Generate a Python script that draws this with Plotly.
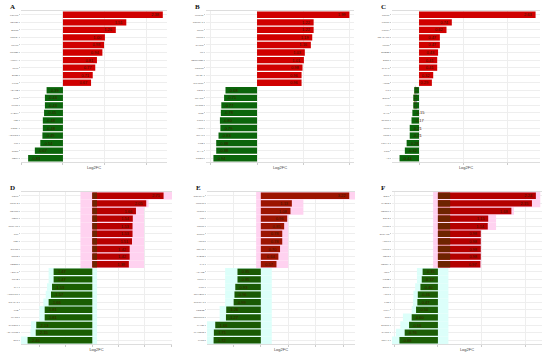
import plotly.graph_objects as go

# ---------------- data ----------------
panels = ["A", "B", "C", "D", "E", "F"]

labels_A = ["FOXM1", "CDC20", "BIRC5", "TOP2A", "MKI67", "CCNB1", "AURKA", "PLK1", "BUB1", "KIF11",
            "ADH1B", "CFD", "PLIN1", "FABP4", "LEP", "CIDEA", "ADIPOQ", "LPL", "GPD1", "RBP4"]
labels_B = ["MMP11", "COL11A1", "SPP1", "MMP1", "CXCL8", "IL6", "SERPINE1", "POSTN", "INHBA", "CTHRC1",
            "CD36", "PPARG", "TUSC5", "SCD", "PCK1", "AQP7", "GPAM", "LIPE", "SAA1", "CIDEC"]
labels_C = ["S100P", "KRT17", "KRT14", "CEACAM6", "MUC1", "ERBB2", "ESR1", "GATA3", "TFF1", "AGR2",
            "KIT", "EGFR", "VIM", "CAV1", "SFRP1", "TP63", "KRT5", "FOXA1", "PGR", "AR"]
labels_D = ["CDK1", "CCNA2", "CDKN3", "MELK", "NUSAP1", "TTK", "PBK", "ZWINT", "RRM2", "UBE2C",
            "ABCA8", "TNXB", "CA4", "ANGPTL7", "SCARA5", "KLB", "MYOC", "CHRDL1", "ADAMTS5", "DPT"]
labels_E = ["COL10A1", "MMP13", "WISP1", "FN1", "COMP", "SULF1", "ASPN", "CDH11", "THBS2", "FAP",
            "ACACB", "TIMP4", "FIGF", "GPIHBP1", "SLC19A3", "PDE3B", "CD300LG", "LYVE1", "MAMDC2", "LVRN"]
labels_F = ["E2F1", "MYBL2", "CENPF", "EZH2", "KIF2C", "DLGAP5", "ASPM", "HMMR", "NEK2", "CENPA",
            "IGF1", "FOSB", "EGR1", "ATF3", "FOS", "KLF4", "JUN", "DUSP1", "CYR61", "NR4A1"]

fc_A = [2.38, 1.51, 1.26, 1.00, 0.98, 0.94, 0.81, 0.77, 0.71, 0.67,
        -0.39, -0.43, -0.43, -0.45, -0.48, -0.48, -0.49, -0.54, -0.67, -0.83]
fc_B = [1.99, 1.22, 1.22, 1.19, 1.16, 1.03, 1.01, 0.98, 0.96, 0.96,
        -0.68, -0.71, -0.77, -0.78, -0.80, -0.79, -0.83, -0.88, -0.88, -0.94]
fc_C = [2.63, 0.74, 0.62, 0.47, 0.47, 0.43, 0.41, 0.41, 0.32, 0.29,
        -0.11, -0.13, -0.13, -0.15, -0.17, -0.21, -0.21, -0.28, -0.32, -0.44]
fc_D = [2.71, 2.05, 1.66, 1.54, 1.53, 1.53, 1.51, 1.42, 1.42, 1.39,
        -1.47, -1.47, -1.53, -1.57, -1.66, -1.81, -1.81, -2.13, -2.15, -2.46]
fc_E = [3.22, 1.13, 1.08, 0.96, 0.85, 0.78, 0.78, 0.70, 0.64, 0.57,
        -0.85, -0.85, -0.93, -0.96, -0.99, -1.26, -1.27, -1.66, -1.71, -1.72]
fc_F = [2.24, 2.15, 1.68, 1.15, 1.14, 0.98, 0.98, 0.98, 0.98, 0.97,
        -0.35, -0.37, -0.40, -0.46, -0.47, -0.50, -0.60, -0.66, -0.76, -0.88]

# highlight band extents (start, end) per row, panels D-F
band_lo_D = [-0.45] * 10 + [-1.66, -1.66, -1.72, -1.77, -1.86, -2.01, -2.01, -2.33, -2.35, -2.71]
band_hi_D = [3.03, 2.14] + [1.97] * 8 + [0.18] * 10
band_lo_E = [-0.17] * 10 + [-1.30, -1.30, -1.30, -1.30, -1.30, -1.50, -1.50, -1.96, -1.96, -1.96]
band_hi_E = [3.43, 1.55, 1.55] + [1.00] * 7 + [0.40] * 10
band_lo_F = [-0.11] * 10 + [-0.48, -0.48, -0.52, -0.56, -0.57, -0.60, -0.80, -0.86, -0.96, -1.05]
band_hi_F = [2.34, 2.34, 1.74, 1.33, 1.33] + [0.99] * 5 + [0.24] * 10

x_ranges = {"A": [-1.0, 2.48], "B": [-1.10, 2.09], "C": [-0.61, 2.73],
            "D": [-2.71, 3.03], "E": [-1.96, 3.43], "F": [-1.05, 2.38]}
x_ticks = {"A": [-1, 0, 1, 2], "B": [-1, 0, 1, 2], "C": [0, 1, 2],
           "D": [-2, -1, 0, 1, 2, 3], "E": [-1, 0, 1, 2, 3], "F": [-1, 0, 1, 2]}

data = {"A": (labels_A, fc_A, None, None), "B": (labels_B, fc_B, None, None),
        "C": (labels_C, fc_C, None, None), "D": (labels_D, fc_D, band_lo_D, band_hi_D),
        "E": (labels_E, fc_E, band_lo_E, band_hi_E), "F": (labels_F, fc_F, band_lo_F, band_hi_F)}

# ---------------- style / layout ----------------
W, H = 550, 359
xdom_px = {"A": (21, 167), "B": (206, 354), "C": (392, 540),
           "D": (21, 172), "E": (207, 355), "F": (392, 542)}
ydom_px = {"top": (11, 162), "bot": (192, 344)}
row_of = {"A": "top", "B": "top", "C": "top", "D": "bot", "E": "bot", "F": "bot"}
red_col = {"A": "#d00000", "B": "#d00000", "C": "#d00000", "D": "#b80000", "E": "#9c1400", "F": "#b40000"}
green_col = {"A": "#0b650b", "B": "#0b650b", "C": "#0b650b", "D": "#1a5e02", "E": "#1a5a04", "F": "#1c5e06"}
dark_seg = {"D": 0.18, "F": 0.28}

fig = go.Figure()
layout = dict(width=W, height=H, margin=dict(l=0, r=0, t=0, b=0), showlegend=False,
              plot_bgcolor="white", paper_bgcolor="white", barmode="overlay",
              font=dict(family="Liberation Sans", size=4, color="#444"))
annotations = []

for i, p in enumerate(panels):
    n = "" if i == 0 else str(i + 1)
    xa, ya = "x" + n, "y" + n
    labs, vals, lo, hi = data[p]
    x0, x1 = xdom_px[p]
    y0, y1 = ydom_px[row_of[p]]
    if lo is not None:
        bcol = ["#ffd2f0" if v > 0 else "#dcfffa" for v in vals]
        fig.add_trace(go.Bar(y=labs, x=[h - l for l, h in zip(lo, hi)], base=lo, orientation="h",
                             width=1.0, marker=dict(color=bcol, line=dict(width=0)),
                             hoverinfo="skip", xaxis=xa, yaxis=ya))
    cols = [red_col[p] if v > 0 else green_col[p] for v in vals]
    fig.add_trace(go.Bar(y=labs, x=vals, orientation="h", width=0.84,
                         marker=dict(color=cols, line=dict(width=0)),
                         text=[f"{v:.2f}" for v in vals], textposition="inside",
                         insidetextanchor="end", textfont=dict(size=4, color="#3a1a00"),
                         constraintext="none", xaxis=xa, yaxis=ya))
    if p in dark_seg:
        seg = dark_seg[p]
        fig.add_trace(go.Bar(y=labs, x=[seg if v > 0 else 0 for v in vals], orientation="h",
                             width=0.84, marker=dict(color="#6e2400", line=dict(width=0)),
                             hoverinfo="skip", xaxis=xa, yaxis=ya))
    layout["xaxis" + n] = dict(domain=[x0 / W, x1 / W], anchor=ya, range=x_ranges[p],
                               automargin=False,
                               tickvals=x_ticks[p], showticklabels=False, ticks="outside",
                               ticklen=2, tickcolor="#cccccc", showgrid=True, gridcolor="#eeeeee",
                               gridwidth=0.5, zeroline=False, showline=True, linecolor="#dddddd",
                               linewidth=0.6, mirror=True,
                               title=dict(text="Log2FC", font=dict(size=4, color="#444"), standoff=2))
    layout["yaxis" + n] = dict(domain=[1 - y1 / H, 1 - y0 / H], anchor=xa, type="category",
                               automargin=False,
                               categoryorder="array", categoryarray=labs, autorange="reversed",
                               range=[19.5, -0.5], tickfont=dict(size=2.5, color="#666"),
                               ticks="outside", ticklen=1, tickcolor="#cccccc",
                               showgrid=True, gridcolor="#eeeeee", gridwidth=0.5, zeroline=False)
    annotations.append(dict(text=f"<b>{p}</b>", xref="paper", yref="paper",
                            x=(x0 - 13) / W, y=1 - (y0 - 4) / H, xanchor="left", yanchor="middle",
                            showarrow=False, font=dict(family="Liberation Serif", size=7, color="#111")))

layout["annotations"] = annotations
fig.update_layout(**layout)
fig.write_html("out.html", config={"displayModeBar": False},
               post_script="document.body.style.margin='0';")
